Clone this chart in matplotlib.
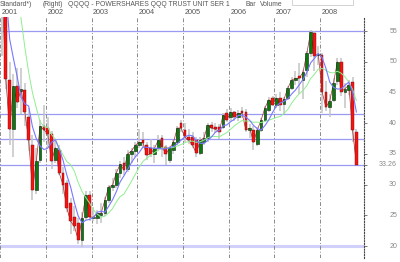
import matplotlib
matplotlib.use("Agg")
import matplotlib.pyplot as plt
import matplotlib.transforms as mtransforms
from matplotlib.patches import Rectangle
import numpy as np
import pandas as pd

# monthly candles, Jan 2001 .. Oct 2008
opens = [58.5, 62.0, 47.0, 39.0, 46.0, 45.3, 45.4, 41.0, 36.4, 29.1, 34.0, 39.5,
         39.2, 38.3, 34.0, 35.6, 31.9, 30.2, 27.0, 24.7, 23.7, 21.0, 24.7, 28.3,
         24.5, 24.6, 25.0, 25.3, 27.5, 29.6, 29.9, 31.9, 33.5, 32.6, 35.0, 35.5,
         36.5, 37.2, 36.4, 35.9, 35.0, 36.0, 37.6, 36.1, 34.0, 35.6, 36.9, 40.0,
         38.9, 37.7, 37.7, 37.2, 35.1, 37.0, 37.6, 39.7, 39.4, 39.4, 39.4, 41.6,
         41.0, 41.8, 41.0, 41.9, 41.8, 38.9, 38.9, 36.6, 38.9, 40.5, 42.1, 44.1,
         43.0, 44.1, 43.1, 44.1, 45.7, 47.0, 47.6, 47.0, 48.6, 51.4, 54.7, 51.1,
         51.1, 45.0, 42.6, 43.8, 46.8, 50.0, 45.0, 45.4, 46.7, 38.6]
highs = [70.0, 63.5, 50.0, 48.0, 49.0, 49.0, 46.5, 42.5, 38.0, 36.0, 40.5, 43.0,
         41.0, 38.8, 37.5, 36.5, 32.8, 30.8, 27.8, 26.5, 24.5, 25.5, 28.9, 29.0,
         26.3, 25.8, 27.0, 28.0, 30.0, 31.0, 32.5, 33.8, 34.5, 35.7, 36.0, 37.0,
         39.0, 38.5, 37.0, 37.5, 36.5, 38.0, 38.0, 36.5, 36.2, 37.2, 39.5, 40.5,
         40.0, 39.0, 38.5, 37.8, 37.8, 38.5, 40.0, 40.2, 40.0, 39.8, 41.6, 42.3,
         42.5, 42.0, 42.2, 42.6, 42.3, 39.8, 39.5, 39.3, 40.8, 42.8, 44.2, 44.5,
         44.8, 45.0, 44.3, 46.0, 47.5, 48.5, 49.8, 48.6, 51.8, 55.1, 55.0, 52.6,
         51.5, 46.8, 44.8, 47.3, 50.6, 50.6, 46.5, 47.0, 47.5, 39.0]
lows = [51.0, 45.5, 36.5, 34.5, 42.5, 41.5, 39.5, 35.5, 27.5, 28.5, 33.5, 37.0,
        36.0, 32.5, 33.5, 31.5, 28.5, 25.5, 22.0, 22.5, 20.3, 19.8, 24.2, 24.0,
        24.0, 23.6, 23.8, 24.9, 27.0, 29.0, 29.5, 31.0, 31.5, 32.0, 33.5, 34.5,
        36.0, 36.0, 34.0, 34.5, 33.5, 35.5, 34.5, 33.2, 33.5, 35.0, 36.5, 38.5,
        37.0, 36.6, 36.0, 34.5, 34.8, 36.5, 37.0, 38.6, 38.4, 37.5, 39.0, 40.2,
        40.3, 40.3, 40.4, 40.8, 38.5, 37.6, 35.6, 36.2, 38.5, 40.2, 41.8, 42.8,
        42.5, 42.0, 41.5, 43.8, 45.4, 46.2, 44.8, 43.9, 47.5, 50.8, 48.5, 49.5,
        41.6, 42.0, 41.0, 43.4, 46.2, 44.5, 42.5, 44.6, 37.0, 33.26]
closes = [62.0, 47.2, 39.0, 46.0, 43.4, 45.5, 41.8, 37.2, 29.1, 33.8, 39.5, 38.9,
          38.3, 33.8, 36.0, 31.9, 30.0, 26.2, 24.0, 23.2, 21.0, 24.5, 28.3, 24.7,
          24.7, 25.3, 25.3, 27.5, 29.6, 29.9, 31.9, 33.3, 32.4, 35.0, 35.5, 36.4,
          36.9, 36.8, 34.8, 35.0, 35.9, 37.2, 36.1, 35.0, 35.9, 36.9, 39.2, 39.2,
          37.7, 37.2, 36.4, 35.1, 37.2, 37.6, 39.7, 39.2, 39.0, 38.6, 41.3, 40.5,
          41.8, 41.0, 41.6, 41.6, 38.9, 39.2, 36.9, 38.9, 40.5, 42.5, 43.8, 43.0,
          44.1, 43.0, 43.9, 45.7, 47.0, 47.3, 47.3, 48.3, 51.4, 54.8, 50.9, 51.3,
          45.1, 42.6, 43.6, 46.5, 50.0, 45.1, 45.6, 46.2, 38.9, 33.26]
# Apr-Dec 2000 closes, only used to start the moving averages
closes_2000 = [95.0, 84.0, 93.0, 90.0, 101.0, 88.7, 78.0, 62.0, 58.4]

years = ["2001", "2002", "2003", "2004", "2005", "2006", "2007", "2008"]
levels = [55, 41.5, 37.4, 33.26]
price_ticks = [55, 50, 45, 40, 35, 33.26, 30, 25, 20]
price_labels = ["55", "50", "45", "40", "35", "33.26", "30", "25", "20"]

o = np.array(opens); h = np.array(highs); l = np.array(lows); c = np.array(closes)
idx = np.arange(len(c))
full = pd.Series(closes_2000 + closes)
ma5 = full.rolling(5).mean().values[len(closes_2000):]
ma10 = full.rolling(10).mean().values[len(closes_2000):]

fig = plt.figure(figsize=(4.0, 2.62), dpi=100)
ax = fig.add_axes([0, 4 / 262, 364 / 400, 241 / 262])
ax.set_xlim(-0.525, 95.0)
ax.set_ylim(18.05, 57.28)

for s in ["top", "bottom", "left"]:
    ax.spines[s].set_visible(False)
ax.spines["right"].set_linestyle((0, (1, 1.5)))
ax.spines["right"].set_color("#444444")
ax.spines["right"].set_linewidth(0.8)
ax.set_xticks([])
ax.yaxis.tick_right()
ax.set_yticks(price_ticks)
ax.set_yticklabels([])
ax.tick_params(axis="y", length=2.5, width=0.6, color="#666666")

# support levels
for v in levels:
    ax.axhline(v, color="#9a9af5", lw=0.9, zorder=1)
ax.axhline(20, color="#d0d0fa", lw=2.2, zorder=1)

# year separators
for k in range(len(years)):
    ax.axvline(12 * k - 0.5, color="#8a8a8a", lw=0.7, ls=(0, (4, 2, 1, 2)), zorder=1)

# candles
ax.vlines(idx, l, h, color="#c4c4c4", lw=1.1, zorder=2)
ax.plot(idx, c, color="#a03030", lw=0.5, zorder=2.5)
up = c >= o
body = np.maximum(np.abs(c - o), 0.2)
ax.bar(idx[up], body[up], bottom=np.minimum(o, c)[up], width=0.72,
       color="#0a7a0a", edgecolor="#102010", lw=0.4, zorder=4)
ax.bar(idx[~up], body[~up], bottom=np.minimum(o, c)[~up], width=0.72,
       color="#ff1010", edgecolor="#601010", lw=0.3, zorder=4)

# moving averages
ax.plot(idx, ma10, color="#90ee90", lw=0.7, zorder=5)
ax.plot(idx, ma5, color="#7878ff", lw=0.8, zorder=5)

# right price labels
tr = mtransforms.blended_transform_factory(fig.transFigure, ax.transData)
for v, t in zip(price_ticks, price_labels):
    ax.text(397 / 400, v, t, transform=tr, ha="right", va="center",
            fontsize=5, color="#888888", family="Liberation Sans", clip_on=False)

# year labels above the plot
trx = mtransforms.blended_transform_factory(ax.transData, fig.transFigure)
for k, yr in enumerate(years):
    ax.text(12 * k - 0.1, 1 - 14 / 262, yr, transform=trx, ha="left",
            va="baseline", fontsize=5.2, color="#555555",
            family="Liberation Sans", clip_on=False)

# header line
header = [(0, "Standard*)"), (43, "(Right)"),
          (68, "QQQQ - POWERSHARES QQQ TRUST UNIT SER 1"),
          (245, "Bar"), (260, "Volume")]
for x, t in header:
    fig.text(x / 400, 1 - 6.5 / 262, t, ha="left", va="baseline",
             fontsize=4.9, color="#555555", family="Liberation Sans")
fig.patches.append(Rectangle((292 / 400, 1 - 5 / 262), 61 / 400, 6 / 262,
                             transform=fig.transFigure, fill=False,
                             edgecolor="#cccccc", lw=0.6))

fig.savefig("out.png", dpi=100)
